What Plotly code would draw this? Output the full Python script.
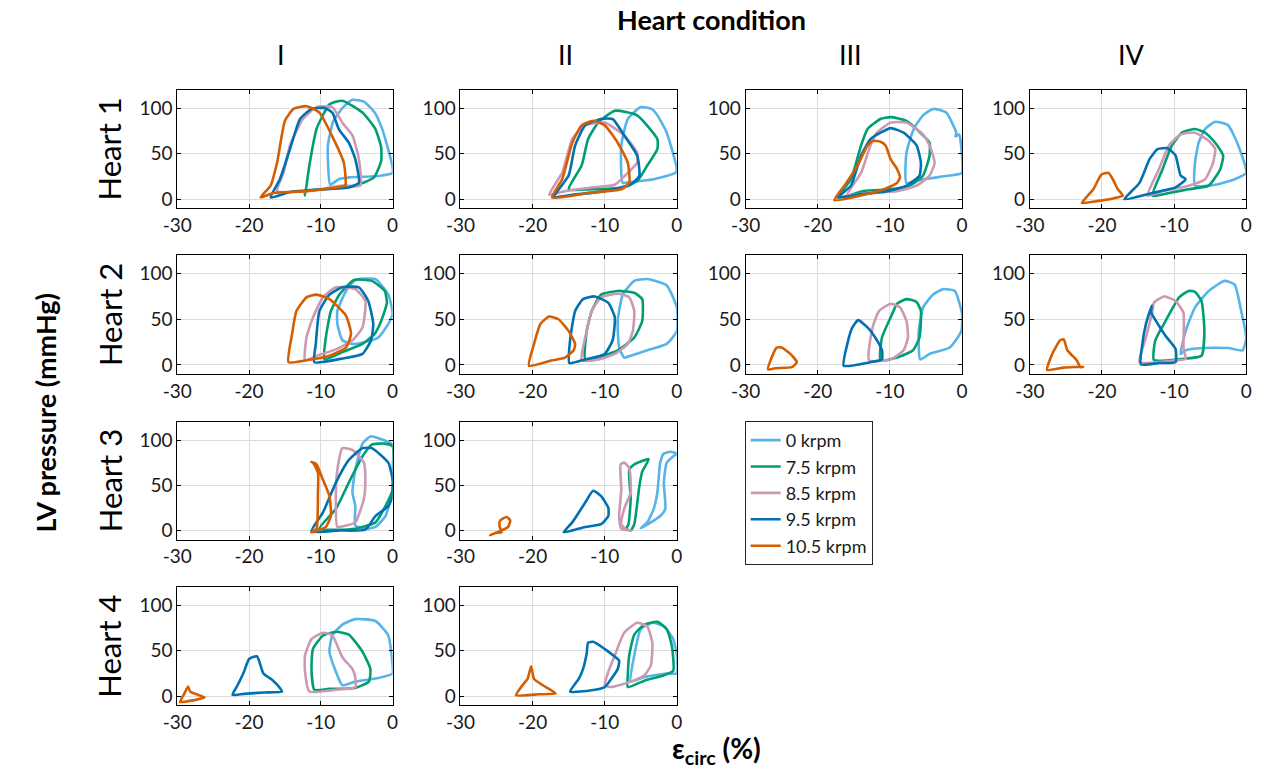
import plotly.graph_objects as go

SERIES = ["0 krpm", "7.5 krpm", "8.5 krpm", "9.5 krpm", "10.5 krpm"]
COLORS = ["#56B4E9", "#009E73", "#CC99B3", "#0072B2", "#D55E00"]
HEARTS = ["Heart 1", "Heart 2", "Heart 3", "Heart 4"]
CONDITIONS = ["I", "II", "III", "IV"]
X_TICKS = [-30, -20, -10, 0]
Y_TICKS = [0, 50, 100]

# ---- loops (strain %, pressure mmHg) ----
# Heart 1
h1_I_0 = [(-8.7,16),(-9.0,40),(-9.0,60),(-8.3,85),(-7.0,100),(-5.6,109),(-4.0,107),(-2.5,95),(-1.5,78),(-0.8,60),(0,35),(0,29),(-1.5,26),(-3,25),(-6,24),(-7.5,22),(-8.7,16)]
h1_I_1 = [(-12.2,4),(-11.6,37),(-10.6,77),(-8.8,104),(-7.0,108),(-4.2,95),(-2.4,77),(-1.6,57),(-1.6,42),(-2.6,24),(-5.2,15),(-9.7,11),(-12.2,9),(-12.2,4)]
h1_I_2 = [(-16.1,9),(-15.2,29),(-14.3,59),(-12.5,88),(-10.6,101),(-8.4,101),(-7.0,84),(-5.6,70),(-4.7,44),(-4.5,15),(-7.0,15),(-12.0,9),(-16.1,9)]
h1_I_3 = [(-17.0,2),(-15.7,22),(-14.3,55),(-12.9,88),(-11.3,99),(-9.5,100),(-8.4,95),(-7.5,77),(-6.1,62),(-5.2,44),(-4.7,18),(-6.1,13),(-9.7,11),(-14.3,8),(-17.0,2)]
h1_I_4 = [(-18.4,2),(-17.0,15),(-16.1,40),(-15.0,86),(-13.8,99),(-12.0,102),(-10.2,95),(-8.1,64),(-6.8,40),(-6.6,15),(-7.9,13),(-12.0,9),(-16.6,7),(-18.4,2)]

h1_II_0 = [(-7.5,18),(-7.7,59),(-6.8,88),(-5.0,101),(-3.5,99),(-2.7,92),(-1.4,73),(0,33),(-0.2,29),(-3.2,22),(-6.4,19),(-7.5,18)]
h1_II_1 = [(-15.0,11),(-13.2,37),(-12.3,66),(-10.9,84),(-8.6,97),(-5.5,92),(-2.7,66),(-2.7,55),(-4.1,37),(-5.5,20),(-7.7,13),(-11.8,11),(-15.0,11)]
h1_II_2 = [(-17.7,5),(-15.9,29),(-14.5,66),(-12.7,81),(-10.0,84),(-7.3,70),(-5.5,51),(-5.5,40),(-6.8,29),(-8.6,16),(-11.8,13),(-15.5,9),(-17.7,5)]
h1_II_3 = [(-17.0,3),(-15.0,26),(-14.1,59),(-12.7,81),(-10.5,88),(-8.9,88),(-7.3,70),(-5.5,48),(-5.2,26),(-6.4,16),(-10.0,9),(-14.5,5),(-17.0,3)]
h1_II_4 = [(-17.3,2),(-15.9,22),(-14.5,62),(-13.2,81),(-11.6,86),(-10.0,81),(-8.2,62),(-6.8,40),(-6.6,18),(-7.7,11),(-12.3,7),(-17.3,2)]

h1_III_0 = [(-7.7,18),(-7.7,51),(-6.7,77),(-5.4,92),(-4.0,99),(-2.2,95),(-0.8,73),(-0.9,69),(-0.4,71),(0,48),(0,29),(-1.7,26),(-5.4,22),(-7.7,18)]
h1_III_1 = [(-17.2,2),(-15.4,22),(-14.0,59),(-13.1,77),(-11.3,88),(-9.9,90),(-7.7,86),(-5.4,70),(-4.5,62),(-4.5,48),(-5.4,26),(-7.2,15),(-9.9,11),(-13.6,9),(-17.2,2)]
h1_III_2 = [(-15.9,5),(-14.0,29),(-12.7,59),(-11.8,73),(-9.9,84),(-7.7,84),(-5.4,71),(-4.5,59),(-3.8,40),(-4.5,26),(-6.3,15),(-9.0,9),(-13.1,7),(-15.9,5)]
h1_III_3 = [(-17.2,2),(-15.4,15),(-14.0,48),(-12.7,66),(-11.3,73),(-9.9,78),(-8.1,73),(-6.3,59),(-5.7,40),(-5.9,26),(-7.7,15),(-10.4,9),(-14.5,5),(-17.2,2)]
h1_III_4 = [(-17.7,-1),(-16.3,15),(-14.5,37),(-13.1,59),(-12.4,64),(-11.3,63),(-10.6,59),(-9.9,44),(-9.0,33),(-8.6,24),(-9.0,18),(-10.8,11),(-13.6,5),(-17.7,-1)]

h1_IV_0 = [(-7.1,15),(-7.1,40),(-6.6,62),(-5.7,77),(-4.3,85),(-2.5,81),(-1.1,59),(0,29),(-1.6,22),(-4.3,16),(-7.1,15)]
h1_IV_1 = [(-13.0,4),(-11.6,33),(-10.3,59),(-8.9,73),(-7.1,77),(-5.7,73),(-4.3,62),(-3.2,48),(-3.6,33),(-5.2,15),(-8.0,11),(-10.7,7),(-13.0,4)]
h1_IV_2 = [(-13.7,4),(-12.1,33),(-10.7,59),(-9.1,71),(-7.1,73),(-5.2,64),(-4.3,55),(-4.6,40),(-5.7,22),(-8.0,15),(-11.6,9),(-13.7,4)]
h1_IV_3 = [(-16.9,0),(-14.8,18),(-13.4,44),(-12.3,55),(-10.9,56),(-9.8,48),(-9.1,26),(-8.4,22),(-9.8,13),(-13.0,7),(-16.9,0)]
h1_IV_4 = [(-22.8,-4),(-21.2,11),(-20.1,27),(-19.1,29),(-18.5,22),(-17.8,11),(-17.1,4),(-18.5,1),(-20.7,-2),(-22.8,-4)]

# Heart 2
h2_I_0 = [(-7.0,27),(-7.7,45),(-7.7,59),(-6.5,81),(-5.2,93),(-2.4,94),(-0.6,77),(0,56),(-0.6,45),(-2.0,30),(-3.8,25),(-5.6,23),(-7.0,27)]
h2_I_1 = [(-9.5,6),(-9.3,30),(-8.6,59),(-7.4,77),(-5.4,93),(-2.9,92),(-1.1,81),(-0.8,68),(-1.6,48),(-2.5,34),(-4.2,23),(-7.0,14),(-9.5,6)]
h2_I_2 = [(-12.2,5),(-12.0,30),(-11.1,52),(-9.7,74),(-7.9,85),(-5.2,83),(-3.8,70),(-4.2,41),(-5.6,27),(-7.9,17),(-10.6,10),(-12.2,5)]
h2_I_3 = [(-10.9,3),(-10.7,23),(-10.2,59),(-8.8,77),(-7.0,85),(-4.7,85),(-3.4,70),(-2.7,45),(-3.0,27),(-4.2,12),(-7.0,7),(-10.9,3)]
h2_I_4 = [(-14.5,3),(-14.0,34),(-13.4,59),(-12.0,74),(-10.6,77),(-8.8,72),(-6.5,54),(-5.8,34),(-6.5,19),(-8.8,10),(-12.0,5),(-14.5,3)]

h2_II_0 = [(-7.3,8),(-8.0,19),(-8.2,48),(-7.5,77),(-5.9,92),(-4.1,94),(-1.4,87),(0,63),(0,37),(-1.4,23),(-4.1,16),(-6.4,10),(-7.3,8)]
h2_II_1 = [(-12.7,6),(-12.5,37),(-11.8,59),(-10.5,77),(-8.2,81),(-5.9,79),(-4.8,72),(-4.8,48),(-5.9,30),(-8.2,16),(-10.9,8),(-12.7,6)]
h2_II_2 = [(-13.2,5),(-12.5,37),(-11.8,59),(-10.5,74),(-8.2,78),(-6.6,74),(-5.9,59),(-6.1,37),(-6.8,23),(-8.6,12),(-10.9,6),(-13.2,5)]
h2_II_3 = [(-14.9,2),(-14.8,27),(-14.1,59),(-13.0,72),(-11.4,75),(-9.5,68),(-8.6,52),(-8.9,27),(-10.0,12),(-12.7,6),(-14.9,2)]
h2_II_4 = [(-20.5,-1),(-19.8,23),(-18.9,45),(-17.7,53),(-16.4,50),(-15.0,37),(-14.1,23),(-14.3,16),(-15.5,8),(-17.3,5),(-20.5,-1)]

h2_III_0 = [(-5.8,6),(-6.0,37),(-5.4,63),(-4.0,77),(-2.6,83),(-1.0,81),(-0.6,74),(0,56),(-0.1,37),(-1.7,19),(-4.5,12),(-5.8,6)]
h2_III_1 = [(-11.3,5),(-11.1,30),(-9.9,52),(-9.0,67),(-7.7,72),(-6.3,69),(-5.7,59),(-5.9,30),(-6.8,16),(-9.0,8),(-11.3,5)]
h2_III_2 = [(-12.9,5),(-12.4,41),(-11.5,59),(-9.9,67),(-8.6,63),(-7.7,48),(-7.5,30),(-8.1,16),(-9.9,6),(-12.9,5)]
h2_III_3 = [(-16.4,-1),(-15.9,23),(-15.2,41),(-14.4,49),(-13.1,41),(-11.8,27),(-11.1,16),(-11.1,6),(-12.7,3),(-16.4,-1)]
h2_III_4 = [(-26.9,-5),(-26.4,8),(-25.7,19),(-25.0,19),(-23.8,12),(-22.9,3),(-23.6,-2.5),(-25.9,-3.6),(-26.9,-5)]

h2_IV_0 = [(-9.1,12),(-8.4,37),(-7.1,63),(-5.2,81),(-3.0,92),(-1.6,88),(-0.7,59),(0,30),(-0.5,16),(-2.5,18.5),(-6.1,18.5),(-8.4,16),(-9.1,12)]
h2_IV_1 = [(-12.8,5.5),(-12.6,27),(-11.2,48),(-9.3,74),(-8.0,81),(-7.1,80),(-6.2,70),(-5.8,37),(-6.2,10),(-9.1,6.5),(-12.8,5.5)]
h2_IV_2 = [(-14.8,3),(-13.9,30),(-13.0,59),(-12.8,68),(-11.4,75),(-9.8,70),(-8.7,57),(-8.7,19),(-8.4,6.5),(-9.8,5),(-14.8,3)]
h2_IV_3 = [(-14.6,0.5),(-14.4,23),(-13.9,45),(-13.1,65),(-13.2,58),(-12.5,48),(-11.2,32),(-9.8,17.5),(-9.8,3),(-12.1,2),(-14.6,0.5)]
h2_IV_4 = [(-27.6,-5.5),(-26.9,12),(-25.8,27),(-25.3,28),(-24.8,16),(-23.5,5),(-23.0,-2.5),(-22.6,-2),(-25.3,-3),(-27.6,-5.5)]

# Heart 3
h3_I_0 = [(-5.2,27),(-5.6,42),(-5.2,67),(-4.2,96),(-3.1,104),(-2.0,102),(0,95),(0,67),(0,45),(-1.0,16),(-2.4,4),(-3.8,2),(-5.2,5.5),(-5.2,27)]
h3_I_1 = [(-10.2,2),(-7.9,24),(-6.1,53),(-4.2,82),(-2.9,95),(-1.1,96),(0,93),(0,45),(-1.0,27),(-2.4,9),(-5.2,2),(-10.2,2)]
h3_I_2 = [(-7.7,4),(-7.9,42),(-7.7,67),(-7.0,91),(-5.6,89),(-4.0,75),(-3.8,56),(-4.0,35),(-5.2,9),(-6.5,5.5),(-7.7,4)]
h3_I_3 = [(-11.3,-1),(-9.7,20),(-7.9,53),(-6.1,78),(-4.2,91),(-2.9,91),(-0.6,75),(0,56),(0,38),(-0.6,27),(-2.4,16),(-3.8,1),(-7.4,0),(-11.3,-1)]
h3_I_4 = [(-11.3,-2),(-10.6,2),(-10.4,42),(-10.4,64),(-11.1,75),(-11.3,76),(-10.6,73),(-9.7,56),(-8.8,38),(-8.6,16),(-9.3,4),(-10.4,0),(-11.3,-2)]

h3_II_0 = [(-5.0,2.5),(-3.6,9),(-2.3,16),(-1.6,24),(-1.8,53),(-1.4,75),(-0.5,82),(0,85),(-0.9,87),(-1.8,85),(-2.3,75),(-2.7,42),(-3.2,24),(-4.1,9),(-5.0,2.5)]
h3_II_1 = [(-6.4,0),(-5.9,7),(-5.2,49),(-4.8,65),(-3.9,79),(-5.9,73),(-6.6,67),(-6.4,35),(-6.7,7),(-7.0,2),(-6.4,0)]
h3_II_2 = [(-7.7,2),(-8.0,16),(-7.7,45),(-7.8,73),(-7.3,75),(-6.6,69),(-6.4,42),(-7.3,24),(-7.7,7),(-7.0,1),(-6.4,0),(-7.7,2)]
h3_II_3 = [(-15.7,-2),(-14.5,9),(-12.7,31),(-11.6,44),(-10.5,38),(-9.5,25),(-9.5,16),(-10.5,7),(-12.7,4),(-15.7,-2)]
h3_II_4 = [(-25.9,-5),(-25.0,-2.5),(-24.3,-2),(-24.6,5.5),(-24.5,11),(-23.6,15),(-23.1,11),(-23.4,4),(-24.3,0),(-25.9,-5)]

# Heart 4
h4_I_0 = [(-7.0,12),(-7.9,27),(-8.8,49),(-8.4,67),(-7.0,79),(-5.2,85),(-2.4,83),(-0.6,67),(0,34),(0,25),(-2.0,20),(-5.2,16),(-7.0,12)]
h4_I_1 = [(-10.9,7),(-11.3,30),(-11.1,52),(-9.7,67),(-7.9,71),(-6.1,68),(-4.2,49),(-3.1,30),(-3.3,16),(-5.2,9),(-8.8,8),(-10.9,7)]
h4_I_2 = [(-11.6,5),(-12.2,27),(-12.2,45),(-11.3,63),(-9.7,70),(-8.4,67),(-7.0,43),(-5.6,30),(-5.2,20),(-5.2,10),(-7.9,7),(-11.6,5)]
h4_I_3 = [(-22.3,1.4),(-21.6,12),(-20.7,27),(-20.0,41),(-18.9,44),(-18.0,25),(-16.8,18),(-15.7,9),(-15.4,5),(-17.9,4),(-20.7,2.5),(-22.3,1.4)]
h4_I_4 = [(-29.6,-6.5),(-29.1,1.4),(-28.5,10.5),(-28.2,5),(-27.1,1.4),(-26.2,-1.4),(-28.0,-5),(-29.6,-6.5)]

h4_II_0 = [(-6.4,16),(-5.9,45),(-5.0,74),(-3.4,81),(-1.8,77),(-0.5,63),(0,45),(0,25),(-1.4,25),(-4.5,21),(-6.4,16)]
h4_II_1 = [(-6.8,10),(-6.8,23),(-6.6,45),(-5.9,68),(-4.5,79),(-2.7,82),(-1.4,74),(-0.7,56),(-0.5,28),(-1.8,23),(-4.5,17),(-6.8,10)]
h4_II_2 = [(-10.0,12),(-9.5,27),(-8.6,45),(-7.3,70),(-5.5,81),(-4.1,77),(-3.4,59),(-3.6,34),(-4.5,23),(-6.4,16),(-9.1,10),(-10.0,12)]
h4_II_3 = [(-14.8,5),(-13.6,19),(-13.0,30),(-12.5,47),(-12.3,59),(-11.6,60),(-10.0,52),(-8.0,39),(-8.2,30),(-9.1,19),(-10.0,10),(-11.8,6.5),(-14.8,5)]
h4_II_4 = [(-22.3,1),(-21.4,12),(-20.7,19),(-20.2,33),(-19.8,19),(-18.6,12),(-16.8,3),(-19.1,2),(-22.3,1)]

PANELS = [
    (0, 0, [h1_I_0, h1_I_1, h1_I_2, h1_I_3, h1_I_4]),
    (0, 1, [h1_II_0, h1_II_1, h1_II_2, h1_II_3, h1_II_4]),
    (0, 2, [h1_III_0, h1_III_1, h1_III_2, h1_III_3, h1_III_4]),
    (0, 3, [h1_IV_0, h1_IV_1, h1_IV_2, h1_IV_3, h1_IV_4]),
    (1, 0, [h2_I_0, h2_I_1, h2_I_2, h2_I_3, h2_I_4]),
    (1, 1, [h2_II_0, h2_II_1, h2_II_2, h2_II_3, h2_II_4]),
    (1, 2, [h2_III_0, h2_III_1, h2_III_2, h2_III_3, h2_III_4]),
    (1, 3, [h2_IV_0, h2_IV_1, h2_IV_2, h2_IV_3, h2_IV_4]),
    (2, 0, [h3_I_0, h3_I_1, h3_I_2, h3_I_3, h3_I_4]),
    (2, 1, [h3_II_0, h3_II_1, h3_II_2, h3_II_3, h3_II_4]),
    (3, 0, [h4_I_0, h4_I_1, h4_I_2, h4_I_3, h4_I_4]),
    (3, 1, [h4_II_0, h4_II_1, h4_II_2, h4_II_3, h4_II_4]),
]

# ---- layout geometry (pixels) ----
W, H = 1265, 769
COL_PX = [(165, 384), (453, 673), (743, 963), (1032, 1252)]
ROW_PX = [(90, 209), (256, 375), (423, 541), (589, 707)]
FONT = "Lato, 'Open Sans', sans-serif"
TXT = "#1a1a1a"

fig = go.Figure()
layout = dict(
    width=W, height=H, margin=dict(l=0, r=0, t=0, b=0),
    paper_bgcolor="white", plot_bgcolor="white",
    font=dict(family=FONT, color=TXT, size=19),
)

for i, (r, c, loops) in enumerate(PANELS):
    n = i + 1
    xa = "x" if n == 1 else f"x{n}"
    ya = "y" if n == 1 else f"y{n}"
    x0, x1 = COL_PX[c]
    y0, y1 = ROW_PX[r]
    axcommon = dict(showline=True, linecolor="black", linewidth=1, mirror="ticks",
                    ticks="inside", ticklen=4, tickcolor="black",
                    showgrid=True, gridcolor="#dcdcdc", gridwidth=1,
                    zeroline=False, tickfont=dict(size=19, family=FONT, color=TXT))
    layout["xaxis" if n == 1 else f"xaxis{n}"] = dict(
        domain=[x0 / W, x1 / W], anchor=ya, range=[-30, 0],
        tickvals=X_TICKS, ticktext=[str(v) for v in X_TICKS], **axcommon)
    layout["yaxis" if n == 1 else f"yaxis{n}"] = dict(
        domain=[1 - y1 / H, 1 - y0 / H], anchor=xa, range=[-10, 120],
        tickvals=Y_TICKS, ticktext=[str(v) for v in Y_TICKS], **axcommon)
    for s, pts in enumerate(loops):
        fig.add_trace(go.Scatter(
            x=[p[0] for p in pts], y=[p[1] for p in pts], mode="lines",
            line=dict(color=COLORS[s], width=2.6, shape="spline", smoothing=0.5),
            name=SERIES[s], legendgroup=SERIES[s], showlegend=(i == 0),
            xaxis=xa, yaxis=ya, hoverinfo="skip"))

layout["legend"] = dict(
    x=742 / W, y=1 - 422 / H, xanchor="left", yanchor="top",
    bordercolor="#262626", borderwidth=1, bgcolor="white",
    font=dict(size=18, family=FONT, color=TXT), tracegroupgap=0,
    itemwidth=30, traceorder="normal")

def label(text, px, py, size, angle=0):
    return dict(text=text, x=px / W, y=1 - py / H, xref="paper", yref="paper",
                xanchor="center", yanchor="middle", showarrow=False, textangle=angle,
                font=dict(size=size, family=FONT, color="black"))

ann = [label("<b>Heart condition</b>", 708, 20, 27)]
for c, lab in enumerate(CONDITIONS):
    ann.append(label(lab, [270, 560, 850, 1135][c], 55, 27))
for r, lab in enumerate(HEARTS):
    ann.append(label(lab, 96, (ROW_PX[r][0] + ROW_PX[r][1]) / 2, 31, -90))
ann.append(label("<b>LV pressure (mmHg)</b>", 31, 414, 27, -90))
ann.append(label("<b>ε<sub>circ</sub> (%)</b>", 713, 752, 28))
layout["annotations"] = ann

fig.update_layout(**layout)
fig.write_html("out.html")
